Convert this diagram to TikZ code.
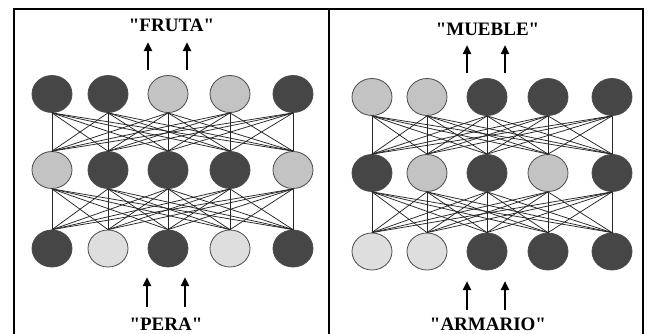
\documentclass[tikz,border=0pt]{standalone}
\usepackage{fontspec}
\setmainfont{Liberation Serif}[Ligatures=TeXOff]
\usetikzlibrary{shapes.geometric,arrows.meta}
\definecolor{actdark}{HTML}{464646}
\definecolor{actmid}{HTML}{C3C3C3}
\definecolor{actlight}{HTML}{DEDEDE}

\begin{document}
\begin{tikzpicture}
    [x=1pt,y=-1pt,
     unit/.style={ellipse,draw=black!70,line width=0.8pt,fill=#1,minimum width=40pt,minimum height=37pt,inner sep=0pt},
     wire/.style={black!85,line width=0.75pt},
     signal/.style={line width=2.6pt,-{Triangle[length=9pt,width=8pt]}},
     word/.style={font=\bfseries\fontsize{19}{21}\selectfont,inner sep=0pt,anchor=base}]
    \useasboundingbox (0,0) rectangle (648,333);
    \fill[white] (0,0) rectangle (648,333);
    % frame
    \draw[line width=2pt] (13.5,340) -- (13.5,9) -- (643,9) -- (643,340);
    \draw[line width=2pt] (329,9) -- (329,340);
    % left net
    \foreach \x/\c [count=\i] in {52/actdark,108/actdark,168/actmid,230/actmid,293/actdark}
      \node[unit=\c] (Lo\i) at (\x,94) {};
    \foreach \x/\c [count=\i] in {52/actmid,108/actdark,168/actdark,230/actdark,293/actmid}
      \node[unit=\c] (Lh\i) at (\x,170) {};
    \foreach \x/\c [count=\i] in {52/actdark,108/actlight,168/actdark,230/actlight,293/actdark}
      \node[unit=\c] (Li\i) at (\x,248.5) {};
    % right net
    \foreach \x/\c [count=\i] in {372/actmid,427/actmid,487/actdark,548/actdark,612/actdark}
      \node[unit=\c] (Ro\i) at (\x,97) {};
    \foreach \x/\c [count=\i] in {372/actdark,427/actmid,487/actdark,548/actmid,612/actdark}
      \node[unit=\c] (Rh\i) at (\x,173) {};
    \foreach \x/\c [count=\i] in {372/actlight,427/actlight,487/actdark,548/actdark,612/actdark}
      \node[unit=\c] (Ri\i) at (\x,251.5) {};
    \foreach \i in {1,...,5}
      \foreach \j in {1,...,5} {
        \draw[wire] (Lo\i.south) -- (Lh\j.north);
        \draw[wire] (Lh\i.south) -- (Li\j.north);
        \draw[wire] (Ro\i.south) -- (Rh\j.north);
        \draw[wire] (Rh\i.south) -- (Ri\j.north);
      }
    % words
    \node[word] (fruta) at (171.5,31) {"FRUTA"};
    \node[word] (pera) at (166,330) {"PERA"};
    \node[word] (mueble) at (487.5,35) {"MUEBLE"};
    \node[word] (armario) at (488,330) {"ARMARIO"};
    \coordinate (fa1) at (148,70);  \coordinate (fb1) at (148,42);
    \coordinate (fa2) at (187,70);  \coordinate (fb2) at (187,42);
    \coordinate (pa1) at (147,307); \coordinate (pb1) at (147,277);
    \coordinate (pa2) at (185,307); \coordinate (pb2) at (185,277);
    \coordinate (ma1) at (467,73);  \coordinate (mb1) at (467,45);
    \coordinate (ma2) at (505,73);  \coordinate (mb2) at (505,45);
    \coordinate (aa1) at (467,310); \coordinate (ab1) at (467,281);
    \coordinate (aa2) at (505,310); \coordinate (ab2) at (505,281);
    \draw[signal] (fa1) -- (fb1);
    \draw[signal] (fa2) -- (fb2);
    \draw[signal] (pa1) -- (pb1);
    \draw[signal] (pa2) -- (pb2);
    \draw[signal] (ma1) -- (mb1);
    \draw[signal] (ma2) -- (mb2);
    \draw[signal] (aa1) -- (ab1);
    \draw[signal] (aa2) -- (ab2);
\end{tikzpicture}
\end{document}
